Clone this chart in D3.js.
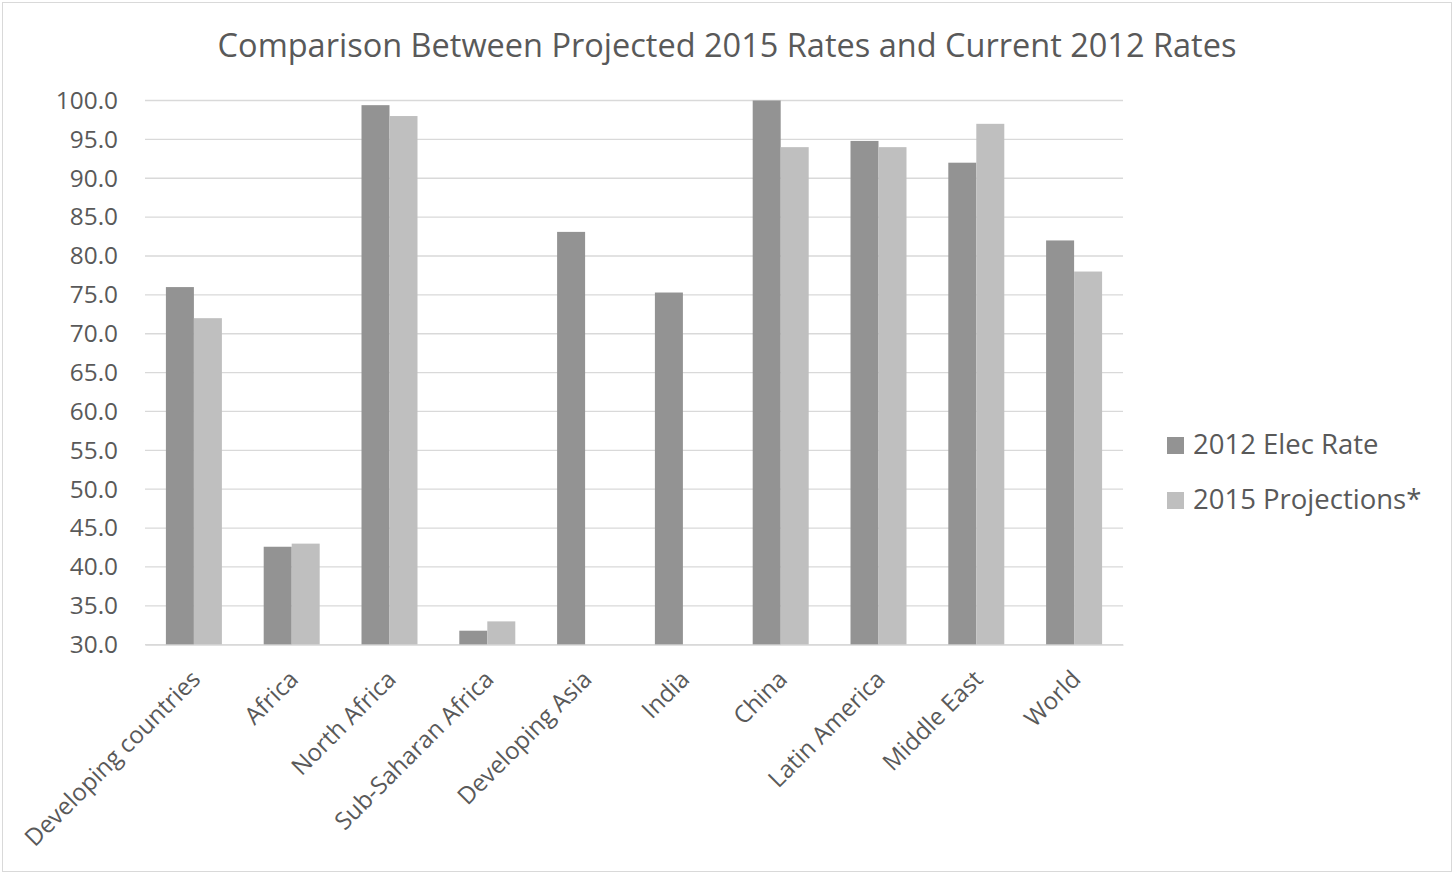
<!DOCTYPE html>
<html>
<head>
<meta charset="utf-8">
<script src="https://cdn.jsdelivr.net/npm/d3@7"></script>
<style>
  html, body { margin: 0; padding: 0; background: #fff; }
  svg { display: block; font-family: "Open Sans", "Noto Sans", sans-serif; }
</style>
</head>
<body>
<svg id="chart" width="1454" height="874"></svg>
<script>
// Electrification rates by region (%)
const categories = ["Developing countries", "Africa", "North Africa", "Sub-Saharan Africa",
  "Developing Asia", "India", "China", "Latin America", "Middle East", "World"];
const rates2012 = [76.0, 42.6, 99.4, 31.8, 83.1, 75.3, 100.0, 94.8, 92.0, 82.0];
const projections2015 = [72.0, 43.0, 98.0, 33.0, null, null, 94.0, 94.0, 97.0, 78.0];
const seriesNames = ["2012 Elec Rate", "2015 Projections*"];
const yTicks = [30, 35, 40, 45, 50, 55, 60, 65, 70, 75, 80, 85, 90, 95, 100];
const titleText = "Comparison Between Projected 2015 Rates and Current 2012 Rates";

const colors = ["#939393", "#bfbfbf"];
const textColor = "#595959";
const svg = d3.select("#chart");
const W = 1454, H = 874;
const margin = { left: 145, right: 331, top: 100.5, bottom: 229.3 };
const plotW = W - margin.left - margin.right;
const plotH = H - margin.top - margin.bottom;

// outer chart border
svg.append("rect")
  .attr("x", 2.5).attr("y", 2.5).attr("width", W - 5).attr("height", H - 5)
  .attr("fill", "none").attr("stroke", "#d9d9d9").attr("stroke-width", 1);

svg.append("text")
  .attr("x", W / 2).attr("y", 57)
  .attr("text-anchor", "middle")
  .attr("font-size", 32.5)
  .attr("fill", textColor)
  .text(titleText);

const g = svg.append("g").attr("transform", `translate(${margin.left},${margin.top})`);

const x = d3.scaleBand().domain(categories).range([0, plotW]).paddingInner(0).paddingOuter(0);
const y = d3.scaleLinear().domain([30, 100]).range([plotH, 0]);
const barW = x.bandwidth() * 0.2863;
const sub = d3.scaleBand().domain([0, 1]).range([(x.bandwidth() - 2 * barW) / 2, (x.bandwidth() + 2 * barW) / 2]);

// gridlines
g.append("g").selectAll("line").data(yTicks).join("line")
  .attr("x1", 0).attr("x2", plotW)
  .attr("y1", d => y(d)).attr("y2", d => y(d))
  .attr("stroke", "#d9d9d9").attr("stroke-width", 1.3);

// y axis labels
const yAxis = d3.axisLeft(y).tickValues(yTicks).tickFormat(d3.format(".1f")).tickSize(0).tickPadding(27);
const ya = g.append("g").call(yAxis);
ya.select(".domain").remove();
ya.selectAll("text").attr("font-size", 24.4).attr("fill", textColor)
  .attr("font-family", "Open Sans, Noto Sans, sans-serif");

// bars
const series = [rates2012, projections2015];
series.forEach((vals, si) => {
  g.append("g").selectAll("rect")
    .data(categories.map((c, i) => ({ c, v: vals[i] })).filter(d => d.v != null))
    .join("rect")
    .attr("x", d => x(d.c) + sub(si))
    .attr("width", sub.bandwidth())
    .attr("y", d => y(d.v))
    .attr("height", d => plotH - y(d.v))
    .attr("fill", colors[si]);
});

// category axis
const xa = g.append("g").attr("transform", `translate(0,${plotH})`)
  .call(d3.axisBottom(x).tickSize(0).tickPadding(0));
xa.select(".domain").attr("stroke", "#d9d9d9").attr("stroke-width", 1.3);
xa.selectAll("text")
  .attr("font-size", 24).attr("fill", textColor)
  .attr("font-family", "Open Sans, Noto Sans, sans-serif")
  .attr("text-anchor", "end")
  .attr("dy", "0")
  .attr("transform", "translate(8,36) rotate(-45)");

// legend
const lg = svg.append("g").attr("transform", "translate(1167,437)");
seriesNames.forEach((name, i) => {
  const row = lg.append("g").attr("transform", `translate(0,${i * 55})`);
  row.append("rect").attr("width", 17).attr("height", 17).attr("fill", colors[i]);
  row.append("text").attr("x", 26).attr("y", 17)
    .attr("font-size", 27.5).attr("fill", textColor).text(name);
});
</script>
</body>
</html>
